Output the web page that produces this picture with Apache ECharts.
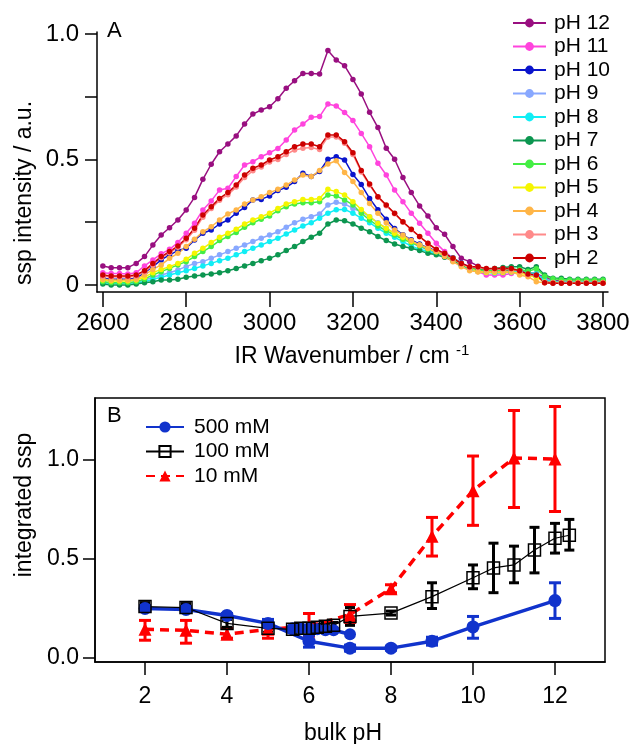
<!DOCTYPE html>
<html><head><meta charset="utf-8">
<script src="https://cdn.jsdelivr.net/npm/echarts@6/dist/echarts.min.js"></script>
<style>html,body{margin:0;padding:0;background:#fff}#c{width:634px;height:744px}</style>
</head><body><div id="c"></div>
<script>
// ---------- Panel A data ----------
const wavenumbers = [2600,2620,2640,2660,2680,2700,2720,2740,2760,2780,2800,2820,2840,2860,2880,2900,2920,2940,2960,2980,3000,3020,3040,3060,3080,3100,3120,3140,3160,3180,3200,3220,3240,3260,3280,3300,3320,3340,3360,3380,3400,3420,3440,3460,3480,3500,3520,3540,3560,3580,3600,3620,3640,3660,3680,3700,3720,3740,3760,3780,3800];
const phLabels = ['pH 12','pH 11','pH 10','pH 9','pH 8','pH 7','pH 6','pH 5','pH 4','pH 3','pH 2'];
const ph12 = [0.076,0.069,0.069,0.069,0.086,0.113,0.159,0.199,0.228,0.259,0.299,0.349,0.421,0.481,0.531,0.562,0.594,0.641,0.681,0.697,0.710,0.742,0.784,0.814,0.843,0.843,0.841,0.934,
  0.896,0.874,0.819,0.761,0.688,0.627,0.545,0.501,0.428,0.368,0.315,0.275,0.228,0.202,0.153,0.106,0.093,
  0.075,0.060,0.055,0.055,0.058,0.060,0.050,0.045,0.030,0.020,0.015,0.015,0.015,0.015,0.015,0.015];
const ph11 = [0.049,0.046,0.046,0.044,0.049,0.076,0.100,0.124,0.142,0.169,0.206,0.246,0.299,0.335,0.378,0.385,0.432,0.478,0.491,0.511,0.527,0.544,0.578,0.618,0.641,0.668,0.671,0.721,0.713,
  0.687,0.655,0.604,0.551,0.485,0.438,0.378,0.332,0.286,0.246,0.206,0.166,0.133,0.106,0.086,0.073,
  0.053,0.040,0.040,0.040,0.046,0.050,0.045,0.040,0.022,0.014,0.012,0.012,0.012,0.012,0.012,0.012];
const ph10 = [0.027,0.023,0.023,0.023,0.027,0.049,0.073,0.100,0.120,0.137,0.146,0.179,0.206,0.219,0.243,0.259,0.286,0.309,0.339,0.341,0.355,0.376,0.389,0.412,0.445,0.432,0.452,0.501,
  0.511,0.498,0.440,0.400,0.345,0.300,0.262,0.225,0.200,0.180,0.163,0.148,0.136,0.124,0.108,0.088,0.070,
  0.058,0.052,0.050,0.050,0.052,0.055,0.045,0.035,0.015,0.010,0.010,0.010,0.010,0.010,0.010,0.010];
const ph9 = [0.013,0.009,0.009,0.009,0.013,0.020,0.031,0.040,0.049,0.060,0.073,0.086,0.093,0.106,0.120,0.133,0.146,0.159,0.173,0.186,0.199,0.212,0.230,0.248,0.262,0.272,0.283,0.319,0.330,
  0.323,0.305,0.292,0.272,0.248,0.226,0.206,0.186,0.169,0.153,0.139,0.129,0.113,0.097,0.080,0.062,
  0.055,0.052,0.050,0.050,0.052,0.055,0.048,0.040,0.020,0.014,0.012,0.012,0.012,0.012,0.012,0.012];
const ph8 = [0.009,0.007,0.007,0.007,0.009,0.013,0.023,0.031,0.040,0.049,0.057,0.066,0.076,0.086,0.097,0.106,0.120,0.133,0.146,0.159,0.173,0.186,0.203,0.219,0.235,0.248,0.266,0.286,0.300,
  0.301,0.286,0.266,0.248,0.226,0.206,0.190,0.173,0.155,0.142,0.133,0.124,0.113,0.097,0.080,0.062,
  0.055,0.050,0.048,0.050,0.052,0.055,0.050,0.045,0.022,0.015,0.012,0.012,0.012,0.012,0.012,0.012];
const ph7 = [0.004,0.000,0.000,0.000,0.004,0.009,0.013,0.020,0.020,0.023,0.031,0.036,0.040,0.044,0.049,0.057,0.066,0.076,0.086,0.097,0.106,0.120,0.137,0.153,0.173,0.190,0.206,0.243,0.259,
  0.256,0.243,0.226,0.212,0.193,0.177,0.163,0.153,0.146,0.137,0.126,0.120,0.110,0.097,0.080,0.066,
  0.062,0.062,0.066,0.070,0.073,0.073,0.062,0.073,0.040,0.027,0.027,0.023,0.023,0.023,0.023,0.023];
const ph6 = [0.013,0.009,0.009,0.009,0.013,0.023,0.040,0.053,0.066,0.080,0.093,0.113,0.133,0.153,0.177,0.193,0.209,0.230,0.248,0.262,0.275,0.296,0.312,0.323,0.328,0.328,0.332,0.359,0.355,
  0.339,0.319,0.286,0.259,0.235,0.216,0.199,0.182,0.169,0.155,0.142,0.131,0.120,0.102,0.084,0.066,
  0.060,0.058,0.058,0.060,0.062,0.062,0.055,0.065,0.035,0.025,0.022,0.020,0.020,0.020,0.020,0.020];
const ph5 = [0.020,0.016,0.016,0.016,0.020,0.031,0.049,0.062,0.073,0.086,0.102,0.126,0.146,0.169,0.190,0.206,0.222,0.243,0.259,0.272,0.286,0.305,0.323,0.332,0.341,0.341,0.345,0.381,0.372,
  0.359,0.332,0.301,0.272,0.246,0.226,0.206,0.190,0.173,0.159,0.146,0.133,0.120,0.106,0.086,0.066,
  0.053,0.050,0.050,0.050,0.052,0.048,0.040,0.030,0.012,0.010,0.010,0.010,0.010,0.010,0.010,0.010];
const ph4 = [0.023,0.020,0.020,0.020,0.023,0.040,0.062,0.080,0.106,0.126,0.153,0.182,0.212,0.232,0.259,0.283,0.299,0.323,0.339,0.352,0.368,0.381,0.398,0.418,0.438,0.432,0.456,0.482,0.495,
  0.448,0.412,0.368,0.325,0.286,0.248,0.219,0.199,0.177,0.159,0.146,0.133,0.113,0.093,0.073,0.057,
  0.053,0.053,0.053,0.053,0.053,0.040,0.033,0.013,0.009,0.009,0.009,0.009,0.009,0.009,0.009,0.009];
const ph3 = [0.035,0.032,0.032,0.032,0.035,0.052,0.080,0.108,0.128,0.150,0.180,0.218,0.270,0.305,0.338,0.360,0.390,0.428,0.455,0.470,0.490,0.500,0.520,0.538,0.545,0.548,0.540,0.590,
  0.590,0.565,0.520,0.450,0.398,0.350,0.316,0.284,0.250,0.220,0.192,0.165,0.140,0.124,0.104,0.084,0.070,
  0.070,0.064,0.064,0.064,0.064,0.055,0.042,0.038,0.010,0.008,0.008,0.008,0.008,0.008,0.008,0.008];
const ph2 = [0.040,0.036,0.036,0.036,0.040,0.057,0.086,0.113,0.133,0.155,0.186,0.226,0.279,0.312,0.345,0.368,0.398,0.438,0.465,0.478,0.498,0.511,0.531,0.551,0.562,0.562,0.551,0.598,
  0.598,0.571,0.527,0.456,0.402,0.352,0.319,0.286,0.252,0.222,0.193,0.166,0.142,0.126,0.106,0.086,0.073,
  0.073,0.066,0.066,0.066,0.066,0.057,0.044,0.040,0.009,0.007,0.007,0.007,0.007,0.007,0.007,0.007];
const spectra = [ph12,ph11,ph10,ph9,ph8,ph7,ph6,ph5,ph4,ph3,ph2];
const phColors = ['#990F80','#FF44DD','#0A14CC','#88A8FF','#11EEF5','#0C9650','#44EE44','#F5F500','#FFB547','#FF8A8A','#CC0000'];
const xTicksA = [2600,2800,3000,3200,3400,3600,3800];
const yTicksA = [0,0.25,0.5,0.75,1.0];
const yLabelsA = [0,0.5,1.0];

// ---------- Panel B data ----------
const pH500 = [2,3,4,5,6,7,8,9,10,12];
const v500 = [0.25,0.245,0.215,0.175,0.085,0.05,0.05,0.085,0.157,0.29];
const lo500 = [0.235,0.23,0.205,0.155,0.055,0.035,0.04,0.065,0.10,0.20];
const hi500 = [0.265,0.26,0.225,0.195,0.115,0.065,0.06,0.105,0.21,0.38];
const pH500b = [5.6,5.8,6.0,6.2,6.4,6.6,7.0];
const v500b = [0.15,0.15,0.15,0.145,0.14,0.14,0.12];
const pH100 = [2,3,4,5,5.6,5.8,6.0,6.2,6.4,6.6,7,8,9,10,10.5,11,11.5,12,12.35];
const v100 = [0.26,0.255,0.175,0.15,0.145,0.15,0.15,0.155,0.16,0.165,0.21,0.227,0.31,0.405,0.455,0.47,0.545,0.605,0.62];
const lo100 = [0.24,0.235,0.155,0.13,0.13,0.135,0.135,0.14,0.145,0.15,0.165,0.217,0.25,0.35,0.33,0.38,0.43,0.53,0.545];
const hi100 = [0.28,0.275,0.195,0.17,0.16,0.165,0.165,0.17,0.175,0.18,0.255,0.237,0.38,0.47,0.58,0.565,0.66,0.68,0.70];
const pH10 = [2,3,4,5,6,7,8,9,10,11,12];
const v10 = [0.145,0.14,0.12,0.145,0.16,0.22,0.35,0.615,0.845,1.01,1.005];
const lo10 = [0.09,0.075,0.10,0.10,0.11,0.18,0.33,0.515,0.67,0.76,0.74];
const hi10 = [0.19,0.19,0.15,0.19,0.225,0.27,0.37,0.71,1.02,1.25,1.27];
const xTicksB = [2,4,6,8,10,12];
const yTicksB = [0,0.5,1.0];

const FONT = '"Liberation Sans", Arial, sans-serif';

function errSeries(name, xs, lo, hi, color, lw, cap) {
  return {
    type: 'custom', name: name, xAxisIndex: 1, yAxisIndex: 1, silent: true,
    data: xs.map((x, i) => [x, lo[i], hi[i]]),
    renderItem: function (params, api) {
      const x = api.value(0);
      const p1 = api.coord([x, api.value(1)]);
      const p2 = api.coord([x, api.value(2)]);
      const st = { stroke: color, lineWidth: lw, fill: null };
      return { type: 'group', children: [
        { type: 'line', shape: { x1: p1[0], y1: p1[1], x2: p2[0], y2: p2[1] }, style: st },
        { type: 'line', shape: { x1: p1[0] - cap, y1: p1[1], x2: p1[0] + cap, y2: p1[1] }, style: st },
        { type: 'line', shape: { x1: p2[0] - cap, y1: p2[1], x2: p2[0] + cap, y2: p2[1] }, style: st }
      ]};
    }
  };
}

const seriesA = phLabels.map((name, k) => ({
  type: 'line', name: name, xAxisIndex: 0, yAxisIndex: 0,
  data: wavenumbers.map((w, i) => [w, spectra[k][i]]),
  symbol: 'circle', symbolSize: 5.5, showSymbol: true,
  itemStyle: { color: phColors[k] },
  lineStyle: { color: phColors[k], width: 1.5 },
  animation: false
}));

const seriesB = [
  errSeries('e10', pH10, lo10, hi10, '#FF0000', 3, 6),
  { type: 'line', name: '10 mM', xAxisIndex: 1, yAxisIndex: 1,
    data: pH10.map((x, i) => [x, v10[i]]),
    symbol: 'triangle', symbolSize: 13,
    itemStyle: { color: '#FF0000' },
    lineStyle: { color: '#FF0000', width: 3.5, type: [9, 6] } },
  errSeries('e500', pH500, lo500, hi500, '#1133CC', 3, 6),
  { type: 'line', name: '500 mM', xAxisIndex: 1, yAxisIndex: 1,
    data: pH500.map((x, i) => [x, v500[i]]),
    symbol: 'circle', symbolSize: 13,
    itemStyle: { color: '#1133CC' },
    lineStyle: { color: '#1133CC', width: 3.5 } },
  { type: 'line', name: '500 mM', xAxisIndex: 1, yAxisIndex: 1,
    data: pH500b.map((x, i) => [x, v500b[i]]),
    symbol: 'circle', symbolSize: 12,
    itemStyle: { color: '#1133CC' },
    lineStyle: { color: '#1133CC', width: 3.5 } },
  errSeries('e100', pH100, lo100, hi100, '#000000', 3, 5),
  { type: 'line', name: '100 mM', xAxisIndex: 1, yAxisIndex: 1,
    data: pH100.map((x, i) => [x, v100[i]]),
    symbol: 'rect', symbolSize: 12,
    itemStyle: { color: 'rgba(255,255,255,0)', borderColor: '#000', borderWidth: 1.5 },
    lineStyle: { color: '#000', width: 1.2 } }
];

const chart = echarts.init(document.getElementById('c'), null, { renderer: 'canvas' });
chart.setOption({
  animation: false,
  backgroundColor: '#fff',
  textStyle: { fontFamily: FONT },
  grid: [
    { left: 97, right: 26, top: 32, bottom: 452, containLabel: false },
    { left: 95, right: 29, top: 398, bottom: 82, containLabel: false, show: true, borderColor: '#000', borderWidth: 1.5, backgroundColor: 'transparent' }
  ],
  xAxis: [
    { type: 'value', gridIndex: 0, min: 2586, max: 3812,
      axisLine: { show: true, onZero: false, lineStyle: { color: '#000', width: 1.5 } },
      axisTick: { show: true, inside: false, length: 15, lineStyle: { color: '#000', width: 1.5 }, customValues: xTicksA },
      axisLabel: { color: '#000', fontSize: 24, margin: 19, fontFamily: FONT, customValues: xTicksA,
        formatter: v => String(Math.round(v)) },
      splitLine: { show: false } },
    { type: 'value', gridIndex: 1, min: 0.78, max: 13.22,
      axisLine: { show: true, onZero: false, lineStyle: { color: '#000', width: 1.5 } },
      axisTick: { show: true, inside: false, length: 13, lineStyle: { color: '#000', width: 1.5 }, customValues: xTicksB },
      axisLabel: { color: '#000', fontSize: 23, margin: 23, fontFamily: FONT, customValues: xTicksB,
        formatter: v => String(Math.round(v)) },
      splitLine: { show: false } }
  ],
  yAxis: [
    { type: 'value', gridIndex: 0, min: -0.028, max: 1.008,
      axisLine: { show: true, onZero: false, lineStyle: { color: '#000', width: 1.5 } },
      axisTick: { show: true, inside: false, length: 12, lineStyle: { color: '#000', width: 1.5 }, customValues: yTicksA },
      axisLabel: { color: '#000', fontSize: 24, margin: 18, fontFamily: FONT, customValues: yLabelsA,
        formatter: v => (v === 0 ? '0' : v.toFixed(1)) },
      splitLine: { show: false } },
    { type: 'value', gridIndex: 1, min: -0.02, max: 1.313,
      axisLine: { show: true, onZero: false, lineStyle: { color: '#000', width: 1.5 } },
      axisTick: { show: true, inside: false, length: 12, lineStyle: { color: '#000', width: 1.5 }, customValues: yTicksB },
      axisLabel: { color: '#000', fontSize: 23, margin: 16, fontFamily: FONT, customValues: yTicksB,
        formatter: v => v.toFixed(1) },
      splitLine: { show: false } }
  ],
  legend: [
    { data: phLabels, orient: 'vertical', left: 507, top: 7.5, itemWidth: 33, itemHeight: 11, itemGap: 2.5,
      selectedMode: false, textStyle: { fontSize: 21, lineHeight: 21, color: '#000', fontFamily: FONT, padding: [0, 0, 0, 3] } },
    { data: ['500 mM', '100 mM', '10 mM'], orient: 'vertical', left: 140, top: 411.5, itemWidth: 38, itemHeight: 14, itemGap: 3.5,
      selectedMode: false, textStyle: { fontSize: 21, lineHeight: 21, color: '#000', fontFamily: FONT, padding: [0, 0, 0, 5] } }
  ],
  graphic: [
    { type: 'text', left: 107, top: 20, style: { text: 'A', fontSize: 22, fontFamily: FONT, fill: '#000' } },
    { type: 'text', left: 107, top: 405, style: { text: 'B', fontSize: 22, fontFamily: FONT, fill: '#000' } },
    { type: 'text', x: 25, y: 193, rotation: Math.PI / 2,
      style: { text: 'ssp intensity / a.u.', fontSize: 23, fontFamily: FONT, fill: '#000', align: 'center', verticalAlign: 'middle' } },
    { type: 'text', x: 352, y: 357,
      style: { text: 'IR Wavenumber / cm {sup|-1}', fontSize: 23, fontFamily: FONT, fill: '#000', align: 'center', verticalAlign: 'middle',
        rich: { sup: { fontSize: 15, fontFamily: FONT, fill: '#000', padding: [0, 0, 12, 0] } } } },
    { type: 'text', x: 25, y: 505, rotation: Math.PI / 2,
      style: { text: 'integrated ssp', fontSize: 23, fontFamily: FONT, fill: '#000', align: 'center', verticalAlign: 'middle' } },
    { type: 'text', x: 343, y: 734,
      style: { text: 'bulk pH', fontSize: 23, fontFamily: FONT, fill: '#000', align: 'center', verticalAlign: 'middle' } }
  ],
  series: seriesA.concat(seriesB)
});
</script>
</body></html>
